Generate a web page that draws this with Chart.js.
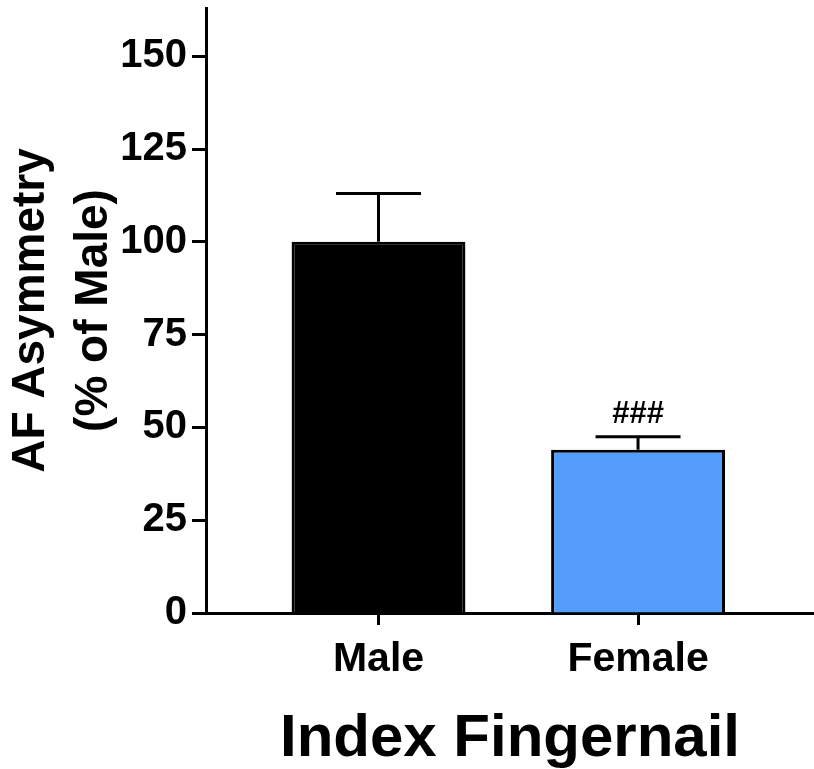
<!DOCTYPE html>
<html>
<head>
<meta charset="utf-8">
<script src="https://cdn.jsdelivr.net/npm/chart.js@4"></script>
<style>
  body { margin: 0; background: #fff; }
  #wrap { width: 814px; height: 769px; position: relative; }
</style>
</head>
<body>
<div id="wrap"><canvas id="myChart"></canvas></div>
<script>
// datos
const categorias = ["Male", "Female"];
const valores = [100, 44];
const errores = [13, 3.5];
const anotaciones = ["", "###"];
const ticksY = [0, 25, 50, 75, 100, 125, 150];

const ctx = document.getElementById("myChart");

// barras de error y marca ### encima de cada barra
const barrasError = {
  id: "barrasError",
  afterDatasetsDraw(chart) {
    const c = chart.ctx;
    const meta = chart.getDatasetMeta(0);
    const y = chart.scales.y;
    c.save();
    c.strokeStyle = "#000";
    c.lineWidth = 3;
    meta.data.forEach((bar, i) => {
      const yTop = y.getPixelForValue(valores[i]);
      const yErr = y.getPixelForValue(valores[i] + errores[i]);
      c.beginPath();
      c.moveTo(bar.x, yTop);
      c.lineTo(bar.x, yErr);
      c.moveTo(bar.x - 42.5, yErr);
      c.lineTo(bar.x + 42.5, yErr);
      c.stroke();
      if (anotaciones[i]) {
        c.fillStyle = "#000";
        c.font = "bold 31px 'Liberation Sans', Arial, sans-serif";
        c.textAlign = "center";
        c.textBaseline = "middle";
        c.fillText(anotaciones[i], bar.x, yErr - 22);
      }
    });
    c.restore();
  },
};

new Chart(ctx, {
  type: "bar",
  data: {
    datasets: [
      {
        data: valores.map((v, i) => ({ x: i + 1, y: v })),
        backgroundColor: ["#000000", "#549DFC"],
        borderColor: "#000",
        borderWidth: 3,
        categoryPercentage: 1,
        barPercentage: 0.67,
      },
    ],
  },
  options: {
    responsive: true,
    maintainAspectRatio: false,
    animation: false,
    layout: { padding: { top: 8, right: 0, left: 0, bottom: 0 } },
    plugins: { legend: { display: false }, tooltip: { enabled: false } },
    scales: {
      x: {
        type: "linear",
        offset: false,
        min: 0.3353,
        max: 2.678,
        afterBuildTicks: (scale) => {
          scale.ticks = categorias.map((c, i) => ({ value: i + 1 }));
        },
        afterFit: (scale) => {
          scale.height = 156;
          scale.paddingLeft = 0;
          scale.paddingRight = 0;
        },
        ticks: {
          color: "#000",
          padding: 10,
          maxRotation: 0,
          font: { family: "'Liberation Sans', Arial, sans-serif", size: 41, weight: "bold" },
          callback: (v) => categorias[v - 1],
        },
        grid: {
          offset: false,
          drawOnChartArea: false,
          drawTicks: true,
          tickLength: 12,
          tickWidth: 3,
          tickColor: "#000",
        },
        border: { display: true, color: "#000", width: 3 },
        title: {
          display: true,
          text: "Index Fingernail",
          color: "#000",
          padding: { top: 0, bottom: 0 },
          font: { family: "'Liberation Sans', Arial, sans-serif", size: 60, weight: "bold", lineHeight: 1 },
        },
      },
      y: {
        min: 0,
        max: 163,
        afterBuildTicks: (scale) => {
          scale.ticks = ticksY.map((v) => ({ value: v }));
        },
        afterFit: (scale) => {
          scale.width = 206;
          scale.paddingTop = 0;
          scale.paddingBottom = 0;
        },
        ticks: {
          color: "#000",
          padding: 5,
          font: { family: "'Liberation Sans', Arial, sans-serif", size: 40, weight: "bold" },
        },
        grid: {
          drawOnChartArea: false,
          drawTicks: true,
          tickLength: 14,
          tickWidth: 3,
          tickColor: "#000",
        },
        border: { display: true, color: "#000", width: 3 },
        title: {
          display: true,
          text: ["AF Asymmetry", "(% of Male)"],
          color: "#000",
          padding: { top: 0, bottom: 0 },
          font: { family: "'Liberation Sans', Arial, sans-serif", size: 46, weight: "bold", lineHeight: 1.37 },
        },
      },
    },
  },
  plugins: [barrasError],
});
</script>
</body>
</html>
